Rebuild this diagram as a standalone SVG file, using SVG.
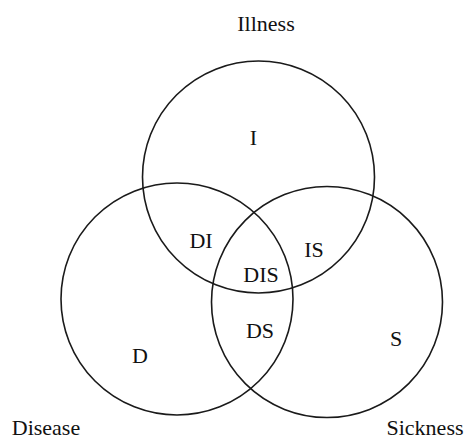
<svg xmlns="http://www.w3.org/2000/svg" width="468" height="441" viewBox="0 0 468 441">
<style>
.c{fill:none;stroke:#1a1a1a;stroke-width:1.6}
text{font-family:'Liberation Serif','DejaVu Serif',serif;fill:#111;text-anchor:middle}
.t{font-size:22px}
.o{font-size:22px}
</style>
<rect width="468" height="441" fill="#fff"/>
<g id="connectors"/>
<g id="illness">
<circle class="c" cx="258.5" cy="177" r="116"/>
<text class="o" x="266" y="31" font-family="Liberation Serif, serif">Illness</text>
</g>
<g id="disease">
<circle class="c" cx="177" cy="299" r="116"/>
<text class="o" x="46" y="435" font-family="Liberation Serif, serif">Disease</text>
</g>
<g id="sickness">
<circle class="c" cx="327" cy="302" r="115.5"/>
<text class="o" x="425" y="435" font-family="Liberation Serif, serif">Sickness</text>
</g>
<g id="region-I"><text class="t" x="253.5" y="145" font-family="Liberation Serif, serif">I</text></g>
<g id="region-DI"><text class="t" x="201" y="248" font-family="Liberation Serif, serif">DI</text></g>
<g id="region-D"><text class="t" x="140" y="363" font-family="Liberation Serif, serif">D</text></g>
<g id="region-DIS"><text class="t" x="261" y="282" font-family="Liberation Serif, serif">DIS</text></g>
<g id="region-IS"><text class="t" x="314" y="257" font-family="Liberation Serif, serif">IS</text></g>
<g id="region-DS"><text class="t" x="260" y="338" font-family="Liberation Serif, serif">DS</text></g>
<g id="region-S"><text class="t" x="396" y="346" font-family="Liberation Serif, serif">S</text></g>
</svg>
